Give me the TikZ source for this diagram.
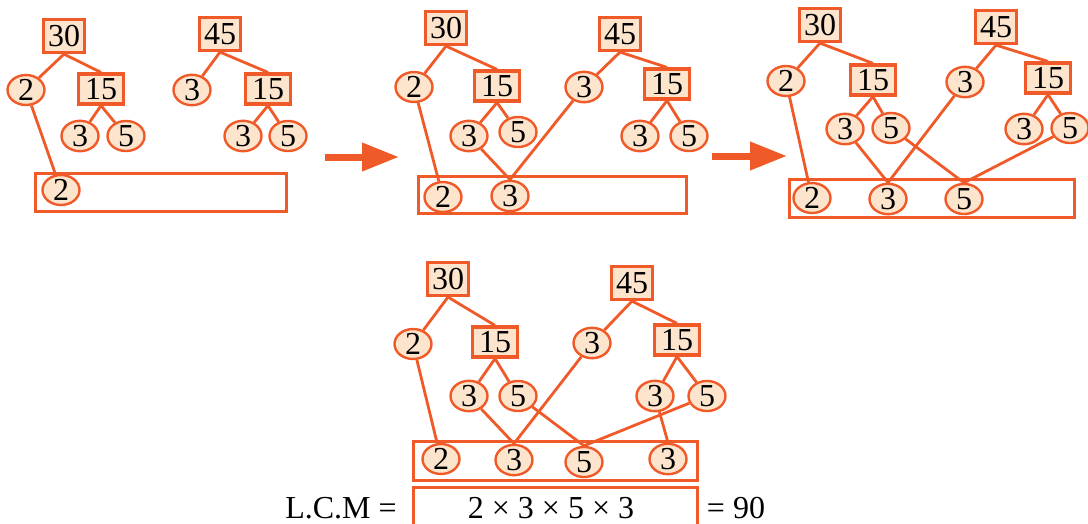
\documentclass[tikz,border=0pt]{standalone}
\usepackage{fontspec}
\setmainfont{Liberation Serif}
\usetikzlibrary{shapes.geometric,arrows.meta}
\definecolor{org}{RGB}{240,90,40}
\definecolor{peach}{RGB}{253,228,204}
\tikzset{
  base/.style={font=\fontsize{32}{36}\selectfont, inner sep=0pt, text=black},
  topbox/.style={base, draw=org, fill=peach, line width=3.2pt, minimum width=41pt, minimum height=33pt},
  midbox/.style={base, draw=org, fill=peach, line width=3.2pt, minimum width=45pt, minimum height=30pt},
  leaf/.style={base, ellipse, draw=org, fill=peach, line width=2.4pt, minimum width=37pt, minimum height=27pt},
  rowbox/.style={draw=org, line width=3pt, inner sep=0pt},
  conn/.style={draw=org, line width=2.8pt},
  bigarrow/.style={draw=org, line width=7pt, -{Triangle[length=37pt,width=27pt]}},
  label/.style={base, anchor=base}
}
\begin{document}
\begin{tikzpicture}[x=1pt,y=-1pt]
\clip (0,0) rectangle (1088,523);
\fill[white] (0,0) rectangle (1088,523);

% ---------- panel a ----------
\node[rowbox, minimum width=251pt, minimum height=38pt] (arow) at (160.5,192) {};
\node[topbox] (a30) at (64,36) {30};
\node[leaf] (a2) at (26,90) {2};
\node[midbox] (a15) at (101,89) {15};
\node[leaf] (a15l) at (80,136) {3};
\node[leaf] (a15r) at (126,136) {5};
\node[topbox] (a45) at (220,34) {45};
\node[leaf] (a3) at (192,90) {3};
\node[midbox] (a45m) at (268,89) {15};
\node[leaf] (a45l) at (243,136) {3};
\node[leaf] (a45r) at (288,136) {5};
\node[leaf] (ar1) at (61,190) {2};
\draw[conn] (a30.south) -- (a2);
\draw[conn] (a30.south) -- (a15.north);
\draw[conn] (a15.south) -- (a15l);
\draw[conn] (a15.south) -- (a15r);
\draw[conn] (a45.south) -- (a3);
\draw[conn] (a45.south) -- (a45m.north);
\draw[conn] (a45m.south) -- (a45l);
\draw[conn] (a45m.south) -- (a45r);
\draw[conn] (a2) -- (ar1);

% arrows
\coordinate (s1) at (325,157);
\coordinate (e1) at (399,157);
\draw[bigarrow] (s1) -- (e1);
\coordinate (s2) at (712,156);
\coordinate (e2) at (787,156);
\draw[bigarrow] (s2) -- (e2);

% ---------- panel b ----------
\node[rowbox, minimum width=268pt, minimum height=37pt] (brow) at (552,194.5) {};
\node[topbox] (b30) at (446,28) {30};
\node[leaf] (b2) at (414,87) {2};
\node[midbox] (b15) at (497,86) {15};
\node[leaf] (b15l) at (469,136) {3};
\node[leaf] (b15r) at (518,132) {5};
\node[topbox] (b45) at (620,34) {45};
\node[leaf] (b3) at (584,87) {3};
\node[midbox] (b45m) at (667,84) {15};
\node[leaf] (b45l) at (640,136) {3};
\node[leaf] (b45r) at (689,136) {5};
\node[leaf] (br1) at (443,197) {2};
\node[leaf] (br2) at (510,196) {3};
\draw[conn] (b30.south) -- (b2);
\draw[conn] (b30.south) -- (b15.north);
\draw[conn] (b15.south) -- (b15l);
\draw[conn] (b15.south) -- (b15r);
\draw[conn] (b45.south) -- (b3);
\draw[conn] (b45.south) -- (b45m.north);
\draw[conn] (b45m.south) -- (b45l);
\draw[conn] (b45m.south) -- (b45r);
\draw[conn] (b2) -- (br1);
\draw[conn] (b15l) -- (br2.north);
\draw[conn] (b3) -- (br2.north);

% ---------- panel c ----------
\node[rowbox, minimum width=285pt, minimum height=38pt] (crow) at (931.5,198) {};
\node[topbox] (c30) at (820,25) {30};
\node[leaf] (c2) at (786,81) {2};
\node[midbox] (c15) at (873,80) {15};
\node[leaf] (c15l) at (845,129) {3};
\node[leaf] (c15r) at (891,128) {5};
\node[topbox] (c45) at (996,27) {45};
\node[leaf] (c3) at (965,82) {3};
\node[midbox] (c45m) at (1048,78) {15};
\node[leaf] (c45l) at (1024,129) {3};
\node[leaf] (c45r) at (1070,128) {5};
\node[leaf] (cr1) at (812,198) {2};
\node[leaf] (cr2) at (888,199) {3};
\node[leaf] (cr3) at (964,199) {5};
\draw[conn] (c30.south) -- (c2);
\draw[conn] (c30.south) -- (c15.north);
\draw[conn] (c15.south) -- (c15l);
\draw[conn] (c15.south) -- (c15r);
\draw[conn] (c45.south) -- (c3);
\draw[conn] (c45.south) -- (c45m.north);
\draw[conn] (c45m.south) -- (c45l);
\draw[conn] (c45m.south) -- (c45r);
\draw[conn] (c2) -- (cr1);
\draw[conn] (c15l) -- (cr2.north);
\draw[conn] (c3) -- (cr2.north);
\draw[conn] (c15r) -- (cr3.north);
\draw[conn] (c45r) -- (cr3.north);

% ---------- panel d ----------
\node[rowbox, minimum width=284pt, minimum height=39pt] (drow) at (555,460.5) {};
\node[topbox] (d30) at (448,279) {30};
\node[leaf] (d2) at (413,344) {2};
\node[midbox] (d15) at (495,342) {15};
\node[leaf] (d15l) at (469,396) {3};
\node[leaf] (d15r) at (518,396) {5};
\node[topbox] (d45) at (632,283) {45};
\node[leaf] (d3) at (592,343) {3};
\node[midbox] (d45m) at (677,340) {15};
\node[leaf] (d45l) at (655,396) {3};
\node[leaf] (d45r) at (707,396) {5};
\node[leaf] (dr1) at (441,459) {2};
\node[leaf] (dr2) at (514,460) {3};
\node[leaf] (dr3) at (584,462) {5};
\node[leaf] (dr4) at (668,459) {3};
\draw[conn] (d30.south) -- (d2);
\draw[conn] (d30.south) -- (d15.north);
\draw[conn] (d15.south) -- (d15l);
\draw[conn] (d15.south) -- (d15r);
\draw[conn] (d45.south) -- (d3);
\draw[conn] (d45.south) -- (d45m.north);
\draw[conn] (d45m.south) -- (d45l);
\draw[conn] (d45m.south) -- (d45r);
\draw[conn] (d2) -- (dr1);
\draw[conn] (d15l) -- (dr2.north);
\draw[conn] (d3) -- (dr2.north);
\draw[conn] (d15r) -- (dr3.north);
\draw[conn] (d45r) -- (dr3.north);
\draw[conn] (d45l) -- (dr4.north);

% LCM line
\node[rowbox, minimum width=284pt, minimum height=50pt] (lcmbox) at (555,512) {};
\node[label] (lcmtxt) at (341,518) {L.C.M =};
\node[label] (prod) at (551,518) {2 × 3 × 5 × 3};
\node[label] (res) at (736,518) {= 90};
\end{tikzpicture}
\end{document}
